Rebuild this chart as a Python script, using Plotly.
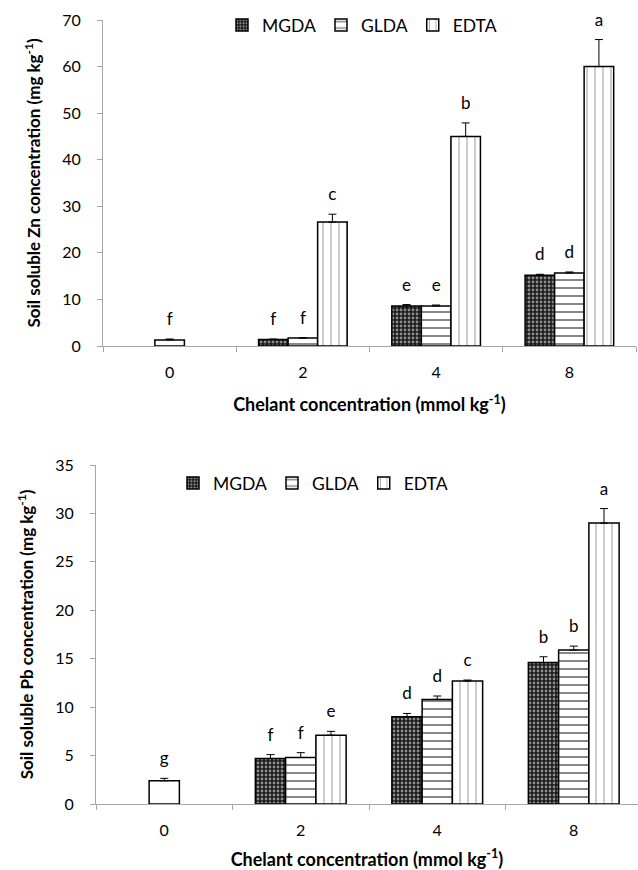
import plotly.graph_objects as go

# ---------------- data ----------------
categories = ["0", "2", "4", "8"]
treat_categories = ["2", "4", "8"]

# Zn (top panel)
zn_control = [1.3]
zn_control_err = [0.2]
zn_control_lbl = ["f"]
zn_mgda = [1.4, 8.6, 15.2]
zn_mgda_err = [0.1, 0.3, 0.2]
zn_mgda_lbl = ["f", "e", "d"]
zn_glda = [1.7, 8.6, 15.7]
zn_glda_err = [0.1, 0.2, 0.2]
zn_glda_lbl = ["f", "e", "d"]
zn_edta = [26.6, 45.0, 60.0]
zn_edta_err = [1.7, 2.9, 5.8]
zn_edta_lbl = ["c", "b", "a"]

# Pb (bottom panel)
pb_control = [2.4]
pb_control_err = [0.25]
pb_control_lbl = ["g"]
pb_mgda = [4.7, 9.0, 14.6]
pb_mgda_err = [0.4, 0.35, 0.6]
pb_mgda_lbl = ["f", "d", "b"]
pb_glda = [4.8, 10.8, 15.9]
pb_glda_err = [0.5, 0.35, 0.4]
pb_glda_lbl = ["f", "d", "b"]
pb_edta = [7.1, 12.7, 29.0]
pb_edta_err = [0.4, 0.1, 1.5]
pb_edta_lbl = ["e", "c", "a"]

series_names = ["MGDA", "GLDA", "EDTA"]

FONT = "Lato"
W, H = 638, 870

patterns = {
    "MGDA": dict(shape=".", size=4, solidity=0.4, fgcolor="white", bgcolor="#1a1a1a"),
    "GLDA": dict(shape="-", size=8, solidity=0.25, fgcolor="#111111", bgcolor="white"),
    "EDTA": dict(shape="|", size=8, solidity=0.15, fgcolor="#555555", bgcolor="white"),
}
groups = {"MGDA": "a", "GLDA": "b", "EDTA": "c"}

fig = go.Figure()


def err_dict(err):
    return dict(type="data", array=err, arrayminus=[0] * len(err), symmetric=False,
                color="black", thickness=1, width=4)


def letter_trace(xs, ys, lbl, xa, ya, grp):
    return go.Scatter(
        x=xs, y=ys, text=lbl, mode="markers+text", textposition="top center",
        marker=dict(size=14, color="rgba(0,0,0,0)"),
        showlegend=False, hoverinfo="skip",
        xaxis=xa, yaxis=ya, offsetgroup=grp, alignmentgroup="g", cliponaxis=False,
        textfont=dict(family=FONT, size=17, color="black"),
    )


def add_panel(xa, ya, legend, control, control_err, control_lbl, series, errs, lbls):
    bars = []
    texts = []
    for name, vals, err, lb in zip(series_names, series, errs, lbls):
        bars.append(go.Bar(
            x=treat_categories, y=vals, name=name, legend=legend,
            xaxis=xa, yaxis=ya, offsetgroup=groups[name], alignmentgroup="g",
            marker=dict(color="white", line=dict(color="black", width=1.5),
                        pattern=patterns[name]),
            error_y=err_dict(err),
        ))
        texts.append(letter_trace(treat_categories, [v + e for v, e in zip(vals, err)],
                                  lb, xa, ya, groups[name]))
    # control bar shares the middle (GLDA) slot
    bars.insert(1, go.Bar(
        x=["0"], y=control, name="Control", showlegend=False,
        xaxis=xa, yaxis=ya, offsetgroup="b", alignmentgroup="g",
        marker=dict(color="white", line=dict(color="black", width=1.5)),
        error_y=err_dict(control_err),
    ))
    texts.insert(1, letter_trace(["0"], [v + e for v, e in zip(control, control_err)],
                                 control_lbl, xa, ya, "b"))
    for t in bars + texts:
        fig.add_trace(t)


add_panel("x", "y", "legend", zn_control, zn_control_err, zn_control_lbl,
          [zn_mgda, zn_glda, zn_edta], [zn_mgda_err, zn_glda_err, zn_edta_err],
          [zn_mgda_lbl, zn_glda_lbl, zn_edta_lbl])
add_panel("x2", "y2", "legend2", pb_control, pb_control_err, pb_control_lbl,
          [pb_mgda, pb_glda, pb_edta], [pb_mgda_err, pb_glda_err, pb_edta_err],
          [pb_mgda_lbl, pb_glda_lbl, pb_edta_lbl])

axis_common = dict(showline=True, linecolor="#a6a6a6", linewidth=1, ticks="outside",
                   tickcolor="#a6a6a6", ticklen=5, showgrid=False, zeroline=False,
                   automargin=False,
                   tickfont=dict(family=FONT, size=16, color="black"))

xtitle = dict(text="Chelant concentration (mmol kg<sup>-1</sup>)", standoff=18,
              font=dict(family=FONT, size=18, color="black", weight="bold"))


def ytitle(metal):
    return dict(text=f"Soil soluble {metal} concentration (mg kg<sup>-1</sup>)", standoff=17,
                font=dict(family=FONT, size=17, color="black", weight="bold"))


legend_common = dict(orientation="h", xanchor="center", yanchor="middle",
                     font=dict(family=FONT, size=17.5, color="black"),
                     bgcolor="rgba(0,0,0,0)", itemwidth=30, tracegroupgap=0)

fig.update_layout(
    width=W, height=H, margin=dict(l=0, r=0, t=0, b=0, autoexpand=False),
    paper_bgcolor="white", plot_bgcolor="white",
    barmode="group", bargap=0.335, bargroupgap=0,
    scattermode="group", scattergap=0.335,
    font=dict(family=FONT, size=16, color="black"),
    xaxis=dict(axis_common, domain=[103 / W, 636 / W], anchor="y",
               type="category", categoryorder="array", categoryarray=categories,
               range=[-0.5, 3.5], tickson="boundaries", ticklabelstandoff=12,
               title=xtitle),
    yaxis=dict(axis_common, domain=[1 - 346 / H, 1 - 20 / H], anchor="x",
               range=[0, 70], dtick=10, ticklabelstandoff=13, title=ytitle("Zn")),
    xaxis2=dict(axis_common, domain=[96 / W, 1.0], anchor="y2",
                type="category", categoryorder="array", categoryarray=categories,
                range=[-0.5, -0.5 + (638 - 96) / 136.5], tickson="boundaries",
                ticklabelstandoff=12, title=xtitle),
    yaxis2=dict(axis_common, domain=[1 - 804 / H, 1 - 465 / H], anchor="x2",
                range=[0, 35], dtick=5, ticklabelstandoff=13, title=ytitle("Pb")),
    legend=dict(legend_common, x=362 / W, y=1 - 25 / H),
    legend2=dict(legend_common, x=313 / W, y=1 - 483 / H),
)

fig.write_html("out.html", config={"displayModeBar": False},
               post_script="document.body.style.margin='0px';document.body.style.overflow='hidden';")
